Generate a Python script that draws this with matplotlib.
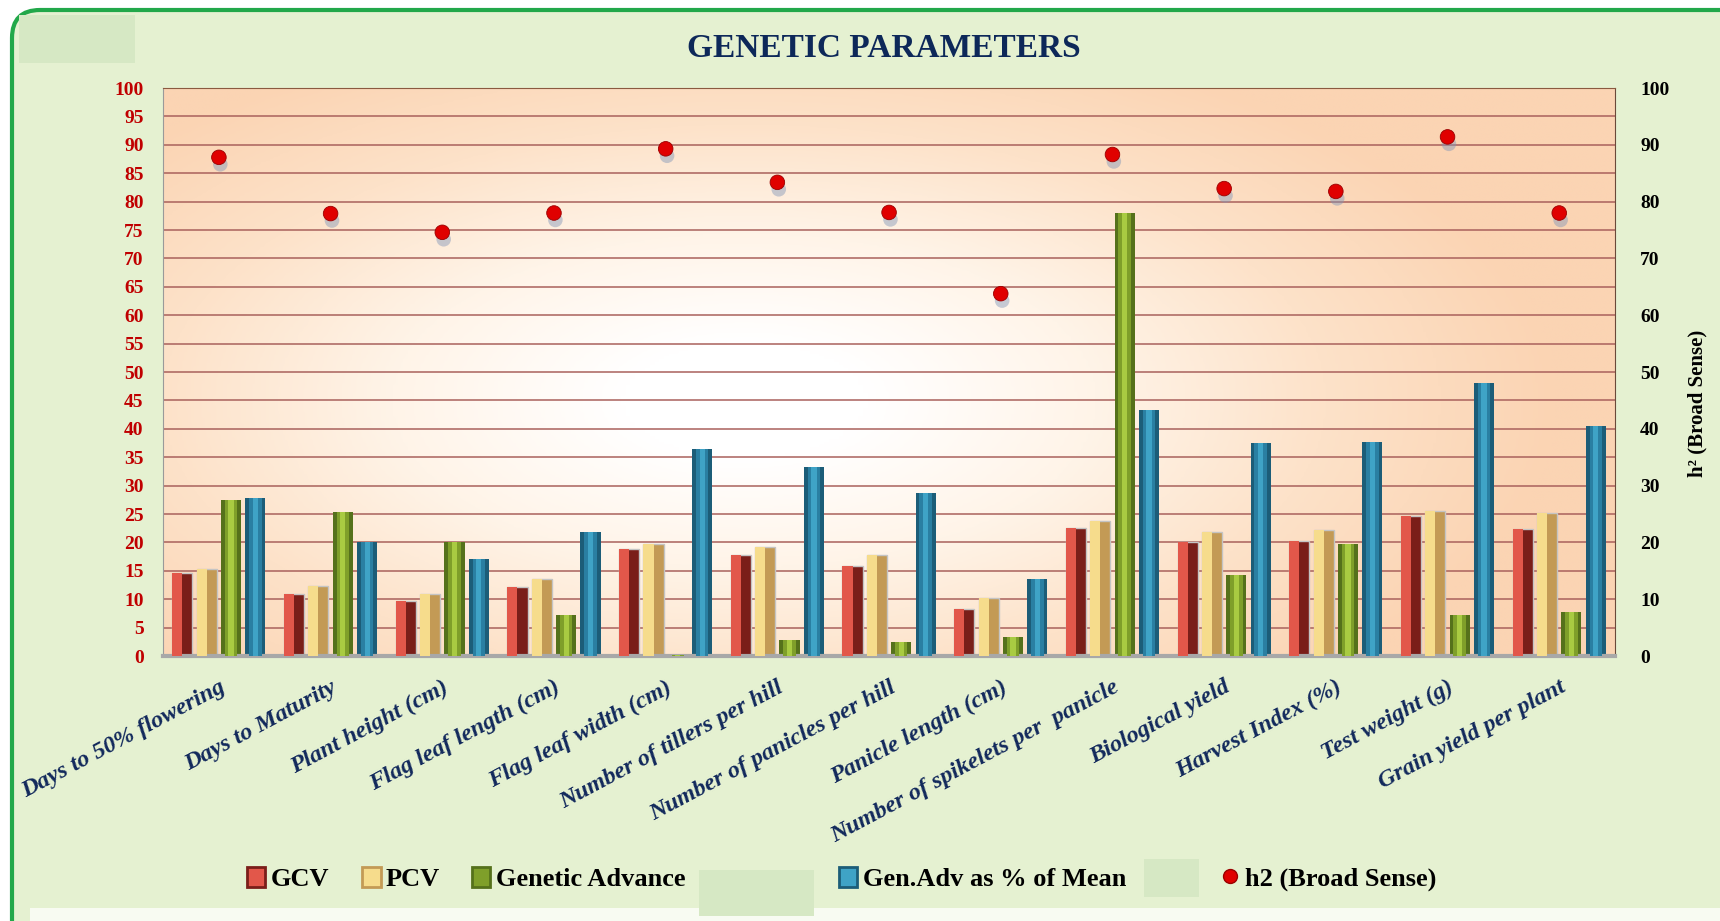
import matplotlib.pyplot as plt
import numpy as np
from matplotlib.patches import Rectangle, FancyBboxPatch, Patch
from matplotlib.lines import Line2D
from matplotlib.colors import LinearSegmentedColormap
import matplotlib.patheffects as pe

# data
traits = ['Days to 50% flowering', 'Days to Maturity', 'Plant height (cm)',
          'Flag leaf length (cm)', 'Flag leaf width (cm)', 'Number of tillers per hill',
          'Number of panicles per hill', 'Panicle length (cm)',
          'Number of spikelets per  panicle', 'Biological yield', 'Harvest Index (%)',
          'Test weight (g)', 'Grain yield per plant']
gcv = [14.7, 11.0, 9.7, 12.1, 18.8, 17.8, 15.8, 8.3, 22.6, 20.0, 20.2, 24.6, 22.3]
pcv = [15.3, 12.3, 10.9, 13.6, 19.8, 19.2, 17.7, 10.2, 23.8, 21.8, 22.2, 25.5, 25.2]
ga = [27.5, 25.4, 20.0, 7.2, 0.2, 2.9, 2.4, 3.3, 78.0, 14.3, 19.8, 7.3, 7.7]
gam = [27.9, 20.1, 17.0, 21.9, 36.4, 33.2, 28.7, 13.5, 43.4, 37.5, 37.6, 48.0, 40.5]
h2 = [87.8, 77.9, 74.6, 78.0, 89.3, 83.4, 78.1, 63.8, 88.3, 82.3, 81.8, 91.4, 78.0]

plt.rcParams['font.family'] = ['Liberation Serif', 'DejaVu Serif']
plt.rcParams['font.weight'] = 'bold'

fig = plt.figure(figsize=(17.2, 9.21), dpi=100)
fig.patch.set_facecolor('white')

# green rounded panel behind everything
fig.add_artist(FancyBboxPatch((12, -60), 1780, 971, boxstyle='round,pad=0,rounding_size=28',
                              transform=None, facecolor='#e5f1d1', edgecolor='#22a84a',
                              linewidth=3, zorder=-5))
fig.add_artist(Rectangle((30, 0), 1700, 13, transform=None, facecolor='#f8fbf2',
                         edgecolor='none', zorder=-4))

ax = fig.add_axes([0.0948, 0.2877, 0.8442, 0.6167])
ax.set_xlim(-0.5, len(traits) - 0.5)
ax.set_ylim(0, 100)

# peach / white glow of the plot area
gx, gy = np.meshgrid(np.linspace(0, 1, 300), np.linspace(0, 1, 200))
r = np.sqrt(((gx - 0.4) / 0.7) ** 2 + ((gy - 0.45) / 0.85) ** 2)
cmap = LinearSegmentedColormap.from_list('bg', ['#ffffff', '#fff4e8', '#fde2c9', '#fbd4b3'])
ax.imshow(r, cmap=cmap, extent=[0, 1, 0, 1], transform=ax.transAxes, aspect='auto',
          origin='lower', vmin=0.12, vmax=0.8, zorder=0)

ax.set_yticks(range(0, 101, 5))
ax.yaxis.grid(True, color='#a9615c', linewidth=1.1)
ax.set_axisbelow(True)

x = np.arange(len(traits))
step, w = 0.218, 0.18

# two-tone bevelled bars
for vals, k, dark, light in [(gcv, 0, '#7a1e19', '#e2574a'), (pcv, 1, '#c39a55', '#f6dc8c')]:
    xo = x + (k - 1.5) * step
    ax.bar(xo, vals, w, color=dark, edgecolor='#c4c4c4', linewidth=1, zorder=2)
    ax.bar(xo - w / 4, vals, w / 2, color=light, linewidth=0, zorder=3)

# cylinder-like bars
for vals, k, dark, mid, light in [(ga, 2, '#55711b', '#7f9f2a', '#a9cb42'),
                                  (gam, 3, '#1c5d78', '#2a7fa2', '#3fa3c6')]:
    xo = x + (k - 1.5) * step
    ax.bar(xo, vals, w, color=dark, linewidth=0, zorder=2)
    ax.bar(xo, vals, w * 0.62, color=mid, linewidth=0, zorder=3)
    ax.bar(xo, vals, w * 0.26, color=light, linewidth=0, zorder=4)

ax.spines['left'].set_color('#9a9a9a')
ax.spines['top'].set_color('#8a5a40')
ax.spines['right'].set_color('#6a4a3a')
ax.spines['bottom'].set_color('#a8a8a8')
ax.spines['bottom'].set_linewidth(3)

ax.tick_params(axis='y', length=0, pad=14, labelsize=14, labelcolor='#c00000')
ax.set_xticks(x)
ax.set_xticklabels(traits, rotation=28, ha='right', rotation_mode='anchor',
                   fontsize=17.5, style='italic', fontweight='bold', color='#12295c')
ax.tick_params(axis='x', length=0, pad=15)

ax2 = ax.twinx()
ax2.set_ylim(0, 100)
ax2.set_yticks(range(0, 101, 10))
ax2.tick_params(axis='y', length=0, pad=18, labelsize=14, labelcolor='black')
for s in ax2.spines.values():
    s.set_visible(False)
ax2.scatter(x, h2, s=110, color='#e00000', edgecolor='#9a0000', linewidth=0.6, zorder=5,
            path_effects=[pe.SimplePatchShadow(offset=(1, -5), shadow_rgbFace='#8095b8', alpha=0.45),
                          pe.Normal()])
ax2.set_ylabel('h² (Broad Sense)', fontsize=15, fontweight='bold', rotation=90)
ax2.yaxis.set_label_coords(1.05, 0.445)

fig.text(0.514, 0.947, 'GENETIC PARAMETERS', ha='center', va='center',
         fontsize=24, fontweight='bold', color='#0d2859')

# legend, one entry at a time to keep the reference spacing
entries = [
    (Patch(facecolor='#e2574a', edgecolor='#7a1e19', linewidth=2), 'GCV', 0.1436),
    (Patch(facecolor='#f6dc8c', edgecolor='#c39a55', linewidth=2), 'PCV', 0.2105),
    (Patch(facecolor='#7f9f2a', edgecolor='#55711b', linewidth=2), 'Genetic Advance', 0.2744),
    (Patch(facecolor='#3fa3c6', edgecolor='#1c5d78', linewidth=2), 'Gen.Adv as % of Mean', 0.4878),
    (Line2D([], [], marker='o', linestyle='none', markersize=10, markerfacecolor='#e00000',
            markeredgecolor='#9a0000'), 'h2 (Broad Sense)', 0.7099),
]
for h, lab, xp in entries:
    fig.legend([h], [lab], loc='center left', bbox_to_anchor=(xp, 0.046), frameon=False,
               prop={'size': 19, 'weight': 'bold'}, handlelength=0.7, handleheight=0.8,
               handletextpad=0.2, borderpad=0, borderaxespad=0)

# light green boxes pasted over the original
for bx, by, bw, bh in [(19, 858, 116, 48), (699, 5, 115, 46), (1144, 24, 55, 38)]:
    fig.add_artist(Rectangle((bx, by), bw, bh, transform=None, facecolor='#d6e8c4',
                             edgecolor='none', zorder=10))

fig.savefig('out.png', dpi=100)
